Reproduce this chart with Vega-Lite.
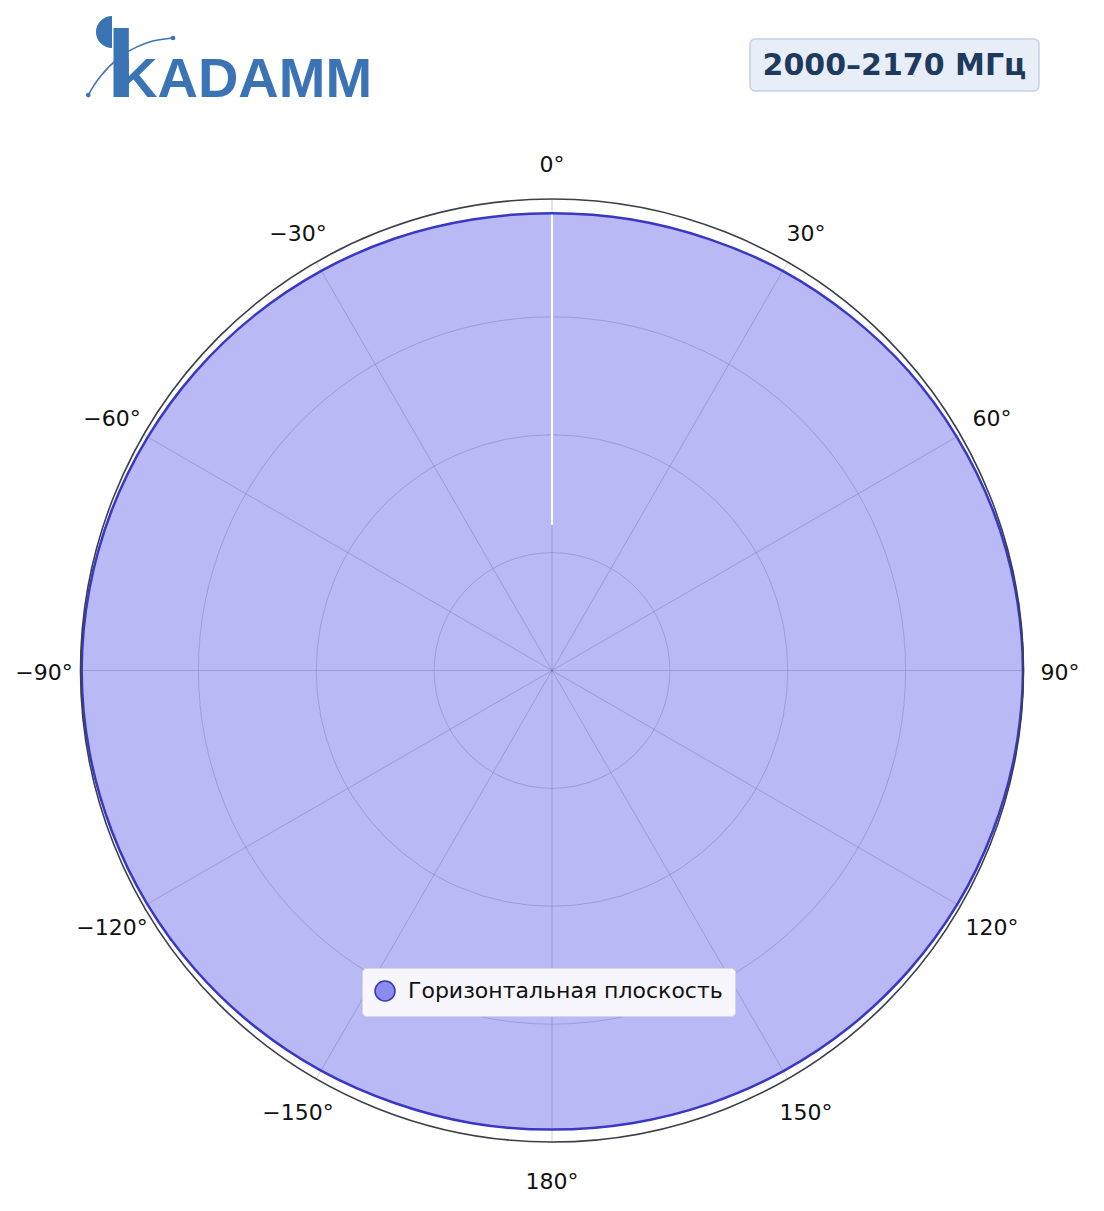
{
  "$schema": "https://vega.github.io/schema/vega-lite/v6.json",
  "width": 1104,
  "height": 1211,
  "padding": 0,
  "autosize": {"type": "none"},
  "background": "white",
  "config": {"view": {"stroke": null}, "font": "DejaVu Sans"},
  "datasets": {
    "pattern": [
      {"deg": 0, "r": 3.88}, {"deg": 10, "r": 3.885}, {"deg": 20, "r": 3.895}, {"deg": 30, "r": 3.915},
      {"deg": 40, "r": 3.93}, {"deg": 50, "r": 3.95}, {"deg": 60, "r": 3.965}, {"deg": 70, "r": 3.98},
      {"deg": 80, "r": 3.99}, {"deg": 90, "r": 3.995}, {"deg": 100, "r": 3.99}, {"deg": 110, "r": 3.98},
      {"deg": 120, "r": 3.97}, {"deg": 130, "r": 3.955}, {"deg": 140, "r": 3.94}, {"deg": 150, "r": 3.925},
      {"deg": 160, "r": 3.91}, {"deg": 170, "r": 3.9}, {"deg": 180, "r": 3.895}, {"deg": 190, "r": 3.9},
      {"deg": 200, "r": 3.905}, {"deg": 210, "r": 3.92}, {"deg": 220, "r": 3.935}, {"deg": 230, "r": 3.95},
      {"deg": 240, "r": 3.965}, {"deg": 250, "r": 3.975}, {"deg": 260, "r": 3.985}, {"deg": 270, "r": 3.99},
      {"deg": 280, "r": 3.985}, {"deg": 290, "r": 3.975}, {"deg": 300, "r": 3.96}, {"deg": 310, "r": 3.945},
      {"deg": 320, "r": 3.93}, {"deg": 330, "r": 3.915}, {"deg": 340, "r": 3.9}, {"deg": 350, "r": 3.885}
    ],
    "rings": [{"r": 1}, {"r": 2}, {"r": 3}],
    "spokes": [
      {"deg": 0}, {"deg": 30}, {"deg": 60}, {"deg": 90}, {"deg": 120}, {"deg": 150},
      {"deg": 180}, {"deg": 210}, {"deg": 240}, {"deg": 270}, {"deg": 300}, {"deg": 330}
    ],
    "labels": [
      {"deg": 0, "lab": "0°"}, {"deg": 30, "lab": "30°"}, {"deg": 60, "lab": "60°"},
      {"deg": 90, "lab": "90°"}, {"deg": 120, "lab": "120°"}, {"deg": 150, "lab": "150°"},
      {"deg": 180, "lab": "180°"}, {"deg": 210, "lab": "−150°"}, {"deg": 240, "lab": "−120°"},
      {"deg": 270, "lab": "−90°"}, {"deg": 300, "lab": "−60°"}, {"deg": 330, "lab": "−30°"}
    ],
    "logoCurve": [
      {"i": 0, "u": -3.934, "v": 4.882}, {"i": 1, "u": -3.835, "v": 5.035},
      {"i": 2, "u": -3.665, "v": 5.205}, {"i": 3, "u": -3.521, "v": 5.29},
      {"i": 4, "u": -3.385, "v": 5.34}, {"i": 5, "u": -3.215, "v": 5.366}
    ],
    "logoDots": [{"u": -3.934, "v": 4.882}, {"u": -3.215, "v": 5.366}]
  },
  "layer": [
    {
      "data": {"name": "pattern"},
      "transform": [
        {"calculate": "datum.r*sin(datum.deg*PI/180)", "as": "px"},
        {"calculate": "datum.r*cos(datum.deg*PI/180)", "as": "py"}
      ],
      "mark": {"type": "line", "interpolate": "cardinal-closed", "fillOpacity": 0.6, "stroke": "#3535c0", "strokeWidth": 2.5, "strokeOpacity": 0},
      "encoding": {
        "x": {"field": "px", "type": "quantitative", "scale": {"domain": [-4.6829, 4.6829], "nice": false, "zero": false}, "axis": null},
        "y": {"field": "py", "type": "quantitative", "scale": {"domain": [-4.5854, 5.6882], "nice": false, "zero": false}, "axis": null},
        "order": {"field": "deg", "type": "quantitative"},
        "fill": {
          "datum": "Горизонтальная плоскость",
          "type": "nominal",
          "scale": {"range": ["#8b8bf0"]},
          "legend": {
            "title": null, "orient": "none", "legendX": 362, "legendY": 968,
            "symbolType": "circle", "symbolSize": 400, "symbolStrokeColor": "#3535b0",
            "symbolStrokeWidth": 1.5, "symbolOpacity": 1,
            "labelFont": "DejaVu Sans", "labelFontSize": 22, "labelColor": "#111111",
            "labelOffset": 12, "labelLimit": 0, "padding": 12,
            "fillColor": "#f6f6fc", "strokeColor": "#d5d5e0", "cornerRadius": 4
          }
        }
      }
    },
    {
      "data": {"name": "spokes"},
      "transform": [
        {"calculate": "0", "as": "cx"},
        {"calculate": "4*sin(datum.deg*PI/180)", "as": "ex"},
        {"calculate": "4*cos(datum.deg*PI/180)", "as": "ey"}
      ],
      "mark": {"type": "rule", "stroke": "#5c5ca0", "strokeOpacity": 0.35, "strokeWidth": 0.9},
      "encoding": {
        "x": {"field": "cx", "type": "quantitative", "scale": {"domain": [-4.6829, 4.6829], "nice": false, "zero": false}},
        "y": {"field": "cx", "type": "quantitative", "scale": {"domain": [-4.5854, 5.6882], "nice": false, "zero": false}},
        "x2": {"field": "ex"},
        "y2": {"field": "ey"}
      }
    },
    {
      "data": {"name": "rings"},
      "mark": {"type": "arc", "theta": 0, "theta2": 6.2832, "filled": false, "stroke": "#5c5ca0", "strokeOpacity": 0.35, "strokeWidth": 0.9},
      "encoding": {
        "x": {"datum": 0, "type": "quantitative", "scale": {"domain": [-4.6829, 4.6829], "nice": false, "zero": false}},
        "y": {"datum": 0, "type": "quantitative", "scale": {"domain": [-4.5854, 5.6882], "nice": false, "zero": false}},
        "radius": {"field": "r", "type": "quantitative", "stack": null, "scale": {"type": "linear", "domain": [0, 4], "range": [0, 471.5], "zero": true, "nice": false}}
      }
    },
    {
      "data": {"values": [{"u": 0, "v1": 1.234, "v2": 3.87}]},
      "mark": {"type": "rule", "stroke": "white", "strokeWidth": 2},
      "encoding": {
        "x": {"field": "u", "type": "quantitative", "scale": {"domain": [-4.6829, 4.6829], "nice": false, "zero": false}},
        "y": {"field": "v1", "type": "quantitative", "scale": {"domain": [-4.5854, 5.6882], "nice": false, "zero": false}},
        "y2": {"field": "v2"}
      }
    },
    {
      "data": {"name": "pattern"},
      "transform": [
        {"calculate": "datum.r*sin(datum.deg*PI/180)", "as": "px"},
        {"calculate": "datum.r*cos(datum.deg*PI/180)", "as": "py"}
      ],
      "mark": {"type": "line", "interpolate": "cardinal-closed", "stroke": "#3838c4", "strokeWidth": 2.5},
      "encoding": {
        "x": {"field": "px", "type": "quantitative", "scale": {"domain": [-4.6829, 4.6829], "nice": false, "zero": false}},
        "y": {"field": "py", "type": "quantitative", "scale": {"domain": [-4.5854, 5.6882], "nice": false, "zero": false}},
        "order": {"field": "deg", "type": "quantitative"}
      }
    },
    {
      "data": {"values": [{"r": 4}]},
      "mark": {"type": "arc", "theta": 0, "theta2": 6.2832, "filled": false, "stroke": "#3a3f4b", "strokeWidth": 1.6},
      "encoding": {
        "x": {"datum": 0, "type": "quantitative", "scale": {"domain": [-4.6829, 4.6829], "nice": false, "zero": false}},
        "y": {"datum": 0, "type": "quantitative", "scale": {"domain": [-4.5854, 5.6882], "nice": false, "zero": false}},
        "radius": {"field": "r", "type": "quantitative", "stack": null, "scale": {"type": "linear", "domain": [0, 4], "range": [0, 471.5], "zero": true, "nice": false}}
      }
    },
    {
      "data": {"name": "labels"},
      "transform": [
        {"calculate": "4.31*sin(datum.deg*PI/180)", "as": "lx"},
        {"calculate": "4.31*cos(datum.deg*PI/180)", "as": "ly"}
      ],
      "mark": {"type": "text", "font": "DejaVu Sans", "fontSize": 22, "color": "#111111", "align": "center", "baseline": "middle", "dy": 3},
      "encoding": {
        "x": {"field": "lx", "type": "quantitative", "scale": {"domain": [-4.6829, 4.6829], "nice": false, "zero": false}},
        "y": {"field": "ly", "type": "quantitative", "scale": {"domain": [-4.5854, 5.6882], "nice": false, "zero": false}},
        "text": {"field": "lab"}
      }
    },
    {
      "data": {"values": [{"u1": 1.68, "u2": 4.131, "v1": 5.357, "v2": 4.916}]},
      "mark": {"type": "rect", "fill": "#e8eef7", "stroke": "#c3d0e3", "strokeWidth": 1.5, "cornerRadius": 5},
      "encoding": {
        "x": {"field": "u1", "type": "quantitative", "scale": {"domain": [-4.6829, 4.6829], "nice": false, "zero": false}},
        "x2": {"field": "u2"},
        "y": {"field": "v1", "type": "quantitative", "scale": {"domain": [-4.5854, 5.6882], "nice": false, "zero": false}},
        "y2": {"field": "v2"}
      }
    },
    {
      "data": {"values": [{"u": 2.905, "v": 5.137, "t": "2000–2170 МГц"}]},
      "mark": {"type": "text", "font": "DejaVu Sans", "fontWeight": "bold", "fontSize": 30, "color": "#1e3a5f", "align": "center", "baseline": "middle", "dy": 1},
      "encoding": {
        "x": {"field": "u", "type": "quantitative", "scale": {"domain": [-4.6829, 4.6829], "nice": false, "zero": false}},
        "y": {"field": "v", "type": "quantitative", "scale": {"domain": [-4.5854, 5.6882], "nice": false, "zero": false}},
        "text": {"field": "t"}
      }
    },
    {
      "data": {"values": [{"u": -3.733, "v": 5.417, "r": 0.1357}]},
      "mark": {"type": "arc", "theta": 3.1416, "theta2": 6.2832, "fill": "#3b74b4"},
      "encoding": {
        "x": {"field": "u", "type": "quantitative", "scale": {"domain": [-4.6829, 4.6829], "nice": false, "zero": false}},
        "y": {"field": "v", "type": "quantitative", "scale": {"domain": [-4.5854, 5.6882], "nice": false, "zero": false}},
        "radius": {"field": "r", "type": "quantitative", "stack": null, "scale": {"type": "linear", "domain": [0, 4], "range": [0, 471.5], "zero": true, "nice": false}}
      }
    },
    {
      "data": {"values": [{"u1": -3.72, "u2": -3.59, "v1": 5.45, "v2": 4.865}]},
      "mark": {"type": "rect", "fill": "#3b74b4"},
      "encoding": {
        "x": {"field": "u1", "type": "quantitative", "scale": {"domain": [-4.6829, 4.6829], "nice": false, "zero": false}},
        "x2": {"field": "u2"},
        "y": {"field": "v1", "type": "quantitative", "scale": {"domain": [-4.5854, 5.6882], "nice": false, "zero": false}},
        "y2": {"field": "v2"}
      }
    },
    {
      "data": {"values": [{"u": -3.69, "v": 4.865, "t": "KADAMM"}]},
      "mark": {"type": "text", "font": "Liberation Sans", "fontWeight": "bold", "fontSize": 56, "color": "#3b74b4", "align": "left", "baseline": "alphabetic"},
      "encoding": {
        "x": {"field": "u", "type": "quantitative", "scale": {"domain": [-4.6829, 4.6829], "nice": false, "zero": false}},
        "y": {"field": "v", "type": "quantitative", "scale": {"domain": [-4.5854, 5.6882], "nice": false, "zero": false}},
        "text": {"field": "t"}
      }
    },
    {
      "data": {"name": "logoCurve"},
      "mark": {"type": "line", "stroke": "#3b74b4", "strokeWidth": 1.5, "interpolate": "natural"},
      "encoding": {
        "x": {"field": "u", "type": "quantitative", "scale": {"domain": [-4.6829, 4.6829], "nice": false, "zero": false}},
        "y": {"field": "v", "type": "quantitative", "scale": {"domain": [-4.5854, 5.6882], "nice": false, "zero": false}},
        "order": {"field": "i", "type": "quantitative"}
      }
    },
    {
      "data": {"name": "logoDots"},
      "mark": {"type": "point", "filled": true, "size": 22, "color": "#3b74b4", "opacity": 1},
      "encoding": {
        "x": {"field": "u", "type": "quantitative", "scale": {"domain": [-4.6829, 4.6829], "nice": false, "zero": false}},
        "y": {"field": "v", "type": "quantitative", "scale": {"domain": [-4.5854, 5.6882], "nice": false, "zero": false}}
      }
    }
  ]
}
